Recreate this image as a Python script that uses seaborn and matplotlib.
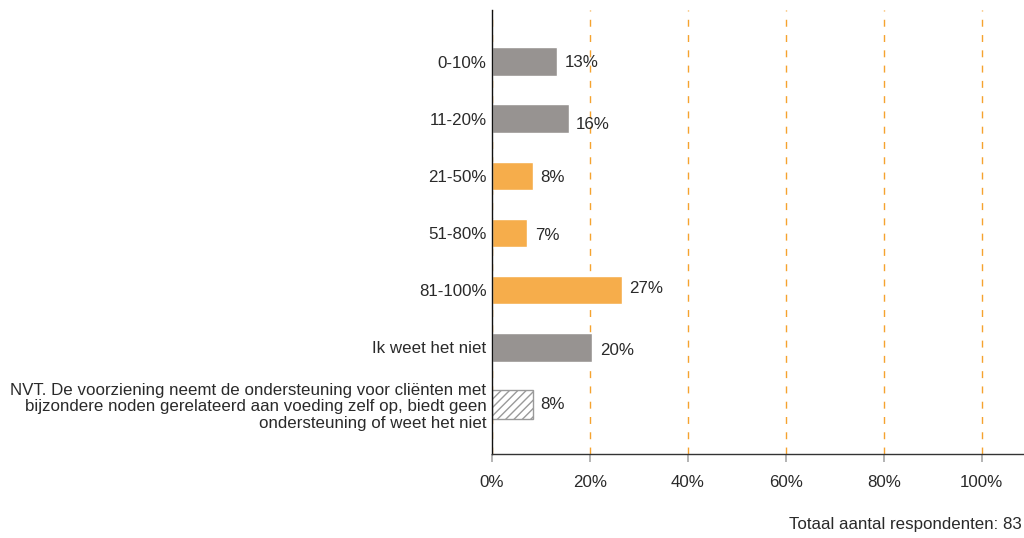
import matplotlib
matplotlib.use("Agg")
import matplotlib.pyplot as plt
import seaborn as sns
import pandas as pd

# Survey answers and respondent counts (out of 83)
categories = [
    "0-10%",
    "11-20%",
    "21-50%",
    "51-80%",
    "81-100%",
    "Ik weet het niet",
    "NVT. De voorziening neemt de ondersteuning voor cliënten met\n"
    "bijzondere noden gerelateerd aan voeding zelf op, biedt geen\n"
    "ondersteuning of weet het niet",
]
counts = [11, 13, 7, 6, 22, 17, 7]
total = 83
percentages = [c / total * 100 for c in counts]
tick_values = [0, 20, 40, 60, 80, 100]
tick_labels = ["0%", "20%", "40%", "60%", "80%", "100%"]

GRAY = "#979391"
ORANGE = "#F6AD4B"
GRID = "#F5A32E"
HATCH = "#9a9a9a"
TEXT = "#2a2a2a"
FS = 12.2
bar_colors = [GRAY, GRAY, ORANGE, ORANGE, ORANGE, GRAY, "white"]
label_nudge = [0.02, 0.1, 0.02, 0.05, -0.02, 0.05, 0.0]

sns.set_theme(style="white")
plt.rcParams["font.family"] = ["Liberation Sans", "DejaVu Sans"]
plt.rcParams["font.size"] = FS
plt.rcParams["hatch.color"] = HATCH
plt.rcParams["hatch.linewidth"] = 1.0

df = pd.DataFrame({"cat": categories, "pct": percentages})

fig = plt.figure(figsize=(10.24, 5.38), dpi=100)
ax = fig.add_axes([0.4805, 0.156, 0.5195, 0.825])

sns.barplot(data=df, x="pct", y="cat", hue="cat", palette=bar_colors,
            legend=False, width=0.5, saturation=1, orient="h", ax=ax)

# Last answer is drawn hatched
last = ax.patches[-1]
last.set_facecolor("white")
last.set_edgecolor(HATCH)
last.set_hatch("////")
last.set_linewidth(1.0)

for i, p in enumerate(percentages):
    ax.text(p + 1.5, i + label_nudge[i], f"{round(p):d}%", va="center",
            ha="left", fontsize=FS, color=TEXT)

ax.set_xlim(0, 108.6)
ax.set_ylim(6.87, -0.9)
ax.set_xticks(tick_values)
ax.set_xticklabels(tick_labels, fontsize=FS, color=TEXT)
ax.tick_params(axis="x", length=6, color="#aaaaaa", pad=9, bottom=True)
ax.tick_params(axis="y", length=0, pad=4, labelsize=FS, labelcolor=TEXT)
ax.set_xlabel("")
ax.set_ylabel("")

for lbl in ax.get_yticklabels():
    lbl.set_multialignment("right")
    lbl.set_linespacing(1.12)

ax.set_axisbelow(True)
ax.grid(axis="x", color=GRID, linestyle=(0, (5, 6)), linewidth=1.0)
ax.grid(axis="y", visible=False)

for side in ("top", "right"):
    ax.spines[side].set_visible(False)
ax.spines["left"].set_color("#111111")
ax.spines["left"].set_linewidth(1.0)
ax.spines["bottom"].set_color("#333333")
ax.spines["bottom"].set_linewidth(1.0)

fig.text(0.998, 0.012, f"Totaal aantal respondenten: {total}", ha="right",
         va="bottom", fontsize=FS, color=TEXT)

fig.savefig("out.png", dpi=100)
